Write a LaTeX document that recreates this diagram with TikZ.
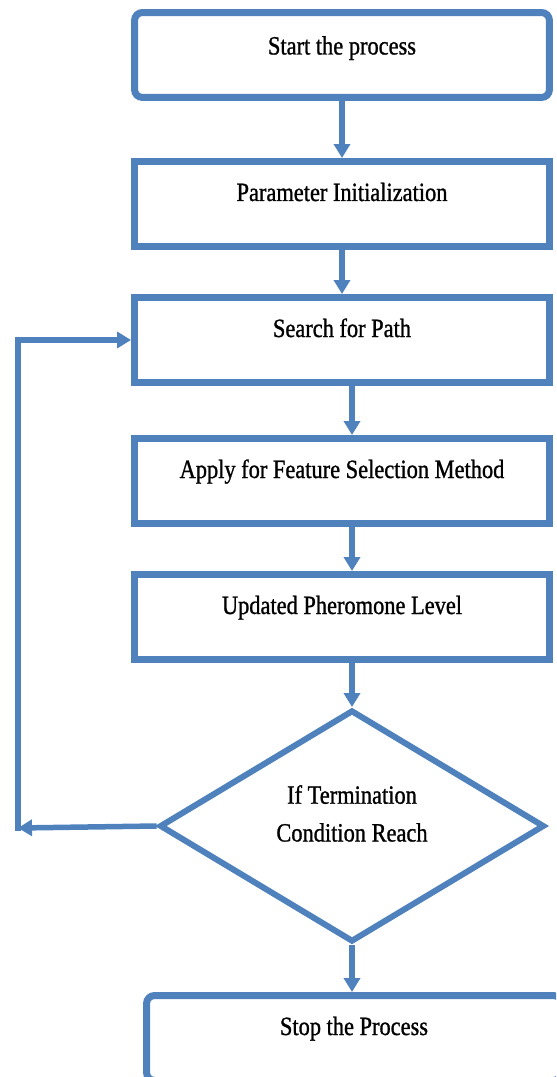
\documentclass[tikz,border=0pt]{standalone}
\usepackage{fontspec}
\setmainfont{Liberation Serif}[FakeStretch=0.85,FakeBold=1]
\usetikzlibrary{arrows.meta,shapes.geometric,positioning}
\definecolor{flowblue}{HTML}{4F81BD}

\begin{document}
\begin{tikzpicture}[x=0.02cm,y=-0.02cm]
		\clip (0,0) rectangle (556,1077);

		\begin{scope}[every node/.style={draw=flowblue,line width=0.14cm,
			minimum width=8.3cm,minimum height=1.7cm,
			text height=0.36cm,text depth=0.48cm,
			font=\fontsize{15}{21.5}\selectfont}]
			\node[rounded corners=0.16cm,text depth=0.38cm] (start) at (342,55) {Start the process};
			\node (init) at (342,204) {Parameter Initialization};
			\node (search) at (342,340) {Search for Path};
			\node (feature) at (342,481) {Apply for Feature Selection Method};
			\node (update) at (342,617) {Updated Pheromone Level};
			\node[diamond,align=center,line width=0.12cm,shape aspect=1.66,
				minimum width=7.7cm,minimum height=4.64cm,
				text height=0.74cm,text depth=0.12cm] (check) at (352,826)
				{If Termination\\Condition Reach};
			\node[rounded corners=0.16cm] (stop) at (354,1038) {Stop the Process};
		\end{scope}

		\coordinate (back) at (18,828);

		\begin{scope}[->,>={Triangle[width=0.32cm,length=0.28cm]},
			color=flowblue,line width=0.11cm]
			\path (start) edge (init);
			\path (init) edge (search);
			\path (search.south -| check.north) edge (feature.north -| check.north);
			\path (feature.south -| check.north) edge (update.north -| check.north);
			\path (update.south -| check.north) edge (check.north);
			\path (check.south) edge (stop.north -| check.south);
			\path (check.west) edge (back);
			\draw[line cap=rect] (back) |- (search.west);
		\end{scope}
	\end{tikzpicture}
\end{document}
